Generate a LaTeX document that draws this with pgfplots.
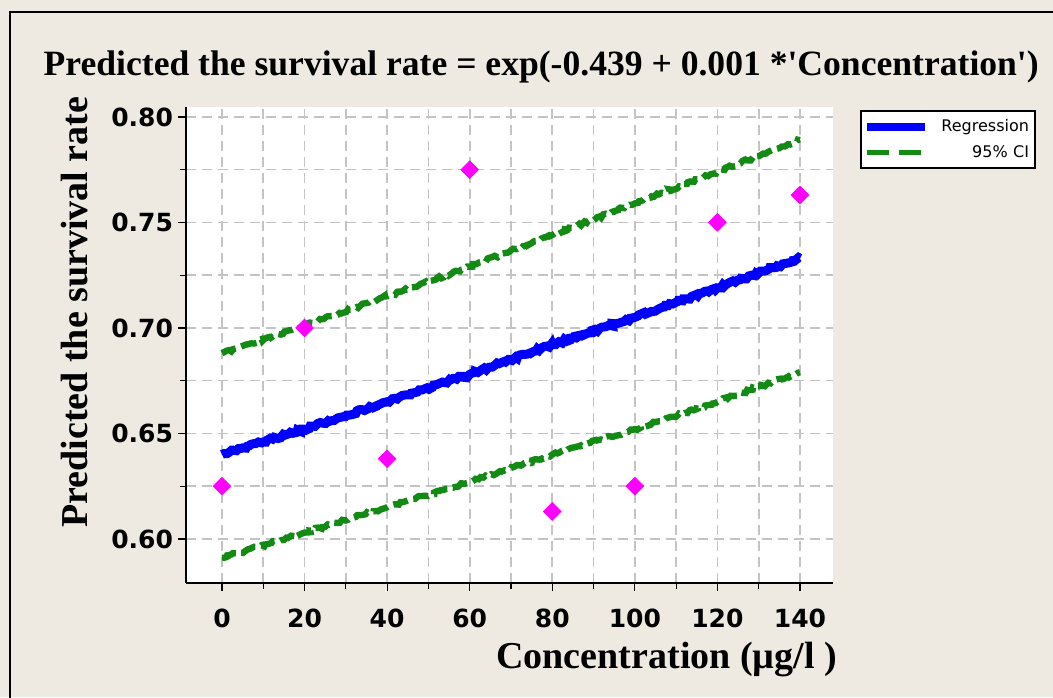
\documentclass[border=0pt]{standalone}
\usepackage{fontspec}
\usepackage{pgfplots}
\pgfplotsset{compat=1.18}
\usetikzlibrary{decorations.pathmorphing}
\setmainfont{Liberation Serif}
\newfontfamily\serif{Liberation Serif}
\newfontfamily\tickfont{DejaVu Sans}
\definecolor{bg}{HTML}{EEEAE2}
\definecolor{gridc}{HTML}{C4C4C4}
\definecolor{cigreen}{HTML}{138A13}
\definecolor{regblue}{HTML}{0000FF}
\definecolor{ptmag}{HTML}{FF00FF}
\begin{document}
\begin{tikzpicture}
\useasboundingbox (0,0) rectangle (526.5pt,348.5pt);
\fill[bg] (0,0) rectangle (526.5pt,348.5pt);
\draw[line width=1pt] (5pt,-10pt) -- (5pt,342.5pt) -- (540pt,342.5pt);
\pgfmathsetseed{7}
\begin{axis}[
  at={(93pt,57pt)}, anchor=south west,
  scale only axis, width=323.5pt, height=238pt,
  xmin=-8.72, xmax=148, ymin=0.5791, ymax=0.8047,
  axis x line*=bottom, axis y line*=left,
  axis line style={line width=1pt, -},
  axis background/.style={fill=white},
  xtick={0,20,...,140}, minor x tick num=1,
  ytick={0.60,0.65,0.70,0.75,0.80}, minor y tick num=1,
  tick align=outside, major tick length=4pt, minor tick length=3pt,
  tick style={black, line width=0.6pt},
  grid=both,
  major grid style={gridc, line width=0.8pt, dash pattern=on 5pt off 3pt},
  minor grid style={gridc, line width=0.8pt, dash pattern=on 5pt off 3pt},
  /pgf/number format/assume math mode=true,
  ticklabel style={font=\tickfont\bfseries\fontsize{12.5}{14}\selectfont},
  yticklabel style={/pgf/number format/fixed, /pgf/number format/fixed zerofill, /pgf/number format/precision=2, xshift=1pt},
  xticklabel style={yshift=-5.5pt},
  title={\serif\bfseries Predicted the survival rate = exp(-0.439 + 0.001 *'Concentration')},
  title style={at={(0.549,1.042)}, anchor=base, font=\fontsize{17.8}{20}\selectfont, inner sep=0pt},
  xlabel={\serif\bfseries Concentration (µg/l )},
  xlabel style={at={(0.743,-0.16)}, anchor=center, font=\fontsize{19}{21}\selectfont, inner sep=0pt},
  ylabel={\serif\bfseries Predicted the survival rate},
  ylabel style={at={(-0.1716,0.569)}, anchor=center, font=\fontsize{19}{21}\selectfont, inner sep=0pt},
  legend style={at={(1.0417,0.9937)}, anchor=north west, draw=black, line width=1pt, fill=white,
    font=\tickfont\fontsize{8}{9}\selectfont, inner xsep=1pt, inner ysep=2pt, row sep=1.5pt,
    nodes={text width=48pt, align=right, inner sep=2pt}},
  legend image code/.code={\draw[#1] (0pt,0pt) -- (29pt,0pt);},
  jag/.style={decorate, decoration={random steps, segment length=1.2pt, amplitude=0.7pt}},
]
\addplot[regblue, line width=4.5pt, forget plot, jag] coordinates {
(0,0.640) (20,0.652) (40,0.665) (60,0.678) (80,0.692) (100,0.705) (120,0.719) (140,0.733)};
\addplot[cigreen, line width=3.2pt, dash pattern=on 8pt off 3pt, forget plot, jag] coordinates {
(0,0.688) (20,0.701) (40,0.715) (60,0.729) (80,0.744) (100,0.759) (120,0.774) (140,0.789)};
\addplot[cigreen, line width=3.2pt, dash pattern=on 8pt off 3pt, forget plot, jag] coordinates {
(0,0.591) (20,0.603) (40,0.615) (60,0.627) (80,0.640) (100,0.652) (120,0.665) (140,0.679)};
\addplot[only marks, mark=square*, mark size=3.1pt, mark options={rotate=45}, color=ptmag, forget plot] coordinates {
(0,0.625) (20,0.700) (40,0.638) (60,0.775) (80,0.613) (100,0.625) (120,0.750) (140,0.763)};
\addlegendimage{regblue, line width=4pt}
\addlegendentry{Regression}
\addlegendimage{cigreen, line width=2.5pt, dash pattern=on 11pt off 5pt}
\addlegendentry{95\% CI}
\end{axis}
\end{tikzpicture}
\end{document}
